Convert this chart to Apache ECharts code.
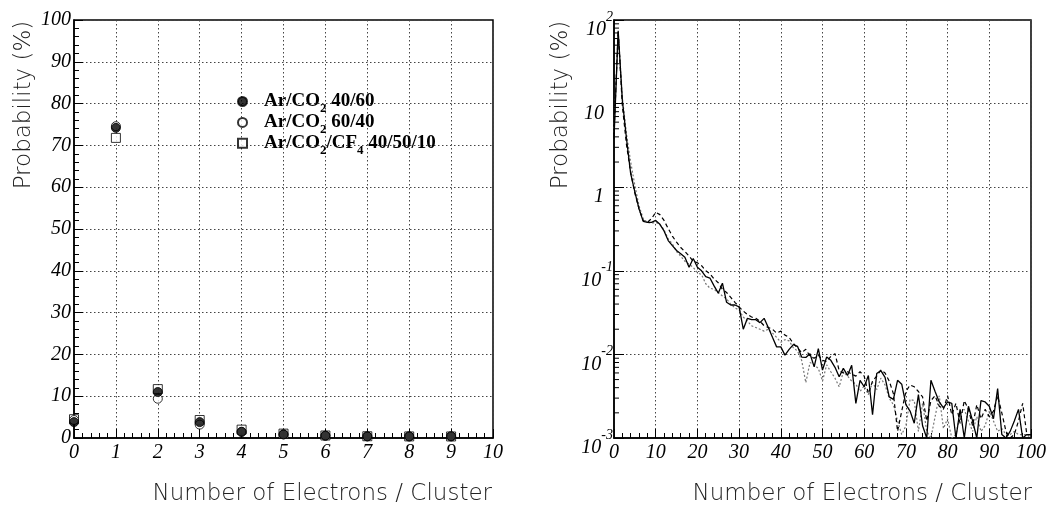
<!DOCTYPE html>
<html>
<head>
<meta charset="utf-8">
<script src="https://cdn.jsdelivr.net/npm/echarts@6/dist/echarts.min.js"></script>
<style>
  html, body { margin: 0; padding: 0; background: #fff; }
  #chart { width: 1049px; height: 510px; }
</style>
</head>
<body>
<div id="chart"></div>
<script>
// Cluster-size distributions: probability (%) of n electrons per cluster, n = 0..100
const gasNames = ['Ar/CO2 40/60', 'Ar/CO2 60/40', 'Ar/CO2/CF4 40/50/10'];

// Ar/CO2 40/60 (filled circles, solid line)
const probArCO2_40_60 = [
  3.8, 74.2, 11.0, 3.8, 1.45, 0.88, 0.55, 0.39, 0.38, 0.38,
  0.40, 0.36, 0.30, 0.23, 0.20, 0.175, 0.16, 0.145, 0.11, 0.14,
  0.11, 0.10, 0.085, 0.082, 0.066, 0.054, 0.071, 0.042, 0.039, 0.039,
  0.037, 0.020, 0.027, 0.026, 0.026, 0.024, 0.027, 0.021, 0.016, 0.0123,
  0.0123, 0.0098, 0.0115, 0.0131, 0.0125, 0.0093, 0.0092, 0.0102, 0.0071, 0.0117,
  0.0065, 0.0093, 0.0085, 0.0070, 0.0054, 0.0068, 0.0056, 0.0074, 0.0026, 0.0049,
  0.0041, 0.0056, 0.0019, 0.0059, 0.0064, 0.0053, 0.0031, 0.0029, 0.0049, 0.0044,
  0.0025, 0.0021, 0.0015, 0.0033, 0.0014, 0, 0.0049, 0.0036, 0.0027, 0.0023,
  0.0027, 0.0026, 0, 0.0022, 0, 0.0024, 0.0016, 0, 0.0028, 0.0027,
  0.0024, 0.0017, 0.0039, 0.0011, 0, 0.0012, 0.0016, 0.0022, 0.0010, 0.0011,
  0.0011
];

// Ar/CO2 60/40 (open circles, dashed line)
const probArCO2_60_40 = [
  4.3, 74.6, 9.4, 3.2, 1.5, 0.85, 0.55, 0.40, 0.38, 0.42,
  0.50, 0.47, 0.40, 0.32, 0.26, 0.22, 0.19, 0.17, 0.15, 0.13,
  0.125, 0.115, 0.10, 0.092, 0.080, 0.072, 0.060, 0.055, 0.048, 0.042,
  0.037, 0.033, 0.030, 0.028, 0.027, 0.025, 0.022, 0.021, 0.020, 0.018,
  0.019, 0.017, 0.016, 0.0135, 0.012, 0.0105, 0.0115, 0.0095, 0.0090, 0.0098,
  0.0085, 0.0082, 0.0095, 0.0102, 0.0064, 0.0060, 0.0062, 0.0058, 0.0055, 0.0062,
  0.0055, 0.0034, 0.0048, 0.0055, 0.0065, 0.0060, 0.0048, 0.0034, 0.0012, 0.0021,
  0.0036, 0.0043, 0.0041, 0.0036, 0.0031, 0.0016, 0.0028, 0.0032, 0.0024, 0.0022,
  0.0032, 0.0019, 0.0026, 0.0015, 0.0028, 0.0022, 0.0014, 0.0025, 0.0017, 0.0022,
  0.0018, 0.0021, 0.0032, 0.0020, 0.0012, 0, 0.0011, 0.0016, 0.0026, 0.0011,
  0.0011
];

// Ar/CO2/CF4 40/50/10 (open squares, dotted line)
const probArCO2CF4 = [
  4.5, 71.8, 11.7, 4.3, 2.0, 1.05, 0.60, 0.42, 0.38, 0.37,
  0.38, 0.36, 0.31, 0.24, 0.21, 0.17, 0.15, 0.13, 0.12, 0.11,
  0.095, 0.090, 0.070, 0.062, 0.060, 0.055, 0.050, 0.046, 0.040, 0.036,
  0.034, 0.028, 0.025, 0.022, 0.021, 0.020, 0.019, 0.020, 0.018, 0.016,
  0.014, 0.015, 0.0145, 0.012, 0.011, 0.0085, 0.0046, 0.0080, 0.0075, 0.0068,
  0.0048, 0.0075, 0.0062, 0.0052, 0.0041, 0.0062, 0.0055, 0.0048, 0.0044, 0.0036,
  0.0042, 0.0033, 0.0046, 0.0038, 0.0052, 0.0043, 0.0030, 0.0025, 0.0016, 0.0011,
  0.0014, 0.0029, 0.0028, 0.0012, 0.0026, 0.0012, 0, 0.0018, 0.0032, 0.0013,
  0.0017, 0, 0.0011, 0.0019, 0.0022, 0.0016, 0.0012, 0.0018, 0.0012, 0.0014,
  0.0021, 0.0016, 0.0012, 0.0013, 0.0011, 0.0011, 0.0012, 0.0011, 0.0011, 0.0011,
  0.0010
];

const nLinear = 10;                 // bins shown on the linear panel (0..9)
const logTickLabels = { '-3': '-3', '-2': '-2', '-1': '-1', '0': '1', '1': '10', '2': '2' };
const xTitle = 'Number of Electrons / Cluster';
const yTitle = 'Probability (%)';

const LOG_MIN = 1e-3, LOG_MAX = 100;

const chart = echarts.init(document.getElementById('chart'), null, { renderer: 'canvas' });

const tickFont = { fontFamily: 'Liberation Serif', fontStyle: 'italic', fontSize: 20, color: '#000' };
const titleFont = { fontFamily: 'DejaVu Sans', fontWeight: 200, fontSize: 23, fill: '#222' };

function linearPoints(arr) {
  return arr.slice(0, nLinear).map((v, i) => [i, v]);
}
// empty bins sit on the floor of the log axis
function logPoints(arr) {
  return arr.map((v, i) => [i, v > 0 ? v : LOG_MIN]);
}

// "CO2" -> CO with subscript 2
function richGasLabel(name) {
  const parts = name.split(/((?:CO|CF)\d)/).filter(p => p.length);
  let s = '{g|}';
  parts.forEach(p => {
    const m = p.match(/^(CO|CF)(\d)$/);
    if (m) s += '{m|' + m[1] + '}{s|' + m[2] + '}';
    else s += '{m|' + p + '}';
  });
  return s;
}

const legendRich = {
  g: { width: 12, lineHeight: 20, verticalAlign: 'top' },
  m: { fontFamily: 'Liberation Serif', fontWeight: 'bold', fontSize: 19, lineHeight: 20, verticalAlign: 'top', color: '#000' },
  s: { fontFamily: 'Liberation Serif', fontWeight: 'bold', fontSize: 13, lineHeight: 13, padding: [11, 0, 0, 0], verticalAlign: 'top', color: '#000' }
};

const legendRowCenters = [103.5, 124.4, 145.3];

// minor ticks of the log axis at 2..9 x 10^k
const logMinorTicks = [];
for (let k = -3; k <= 1; k++) {
  for (let j = 2; j <= 9; j++) logMinorTicks.push([0, j * Math.pow(10, k)]);
}

const axisCommon = {
  axisLine: { show: true, onZero: false, lineStyle: { color: '#000', width: 1.5 } },
  axisTick: { show: true, inside: true, length: 9, lineStyle: { color: '#000', width: 1 } },
  minorTick: { show: true, splitNumber: 5, length: 5, lineStyle: { color: '#000', width: 1 } },
  splitLine: { show: true, lineStyle: { color: '#444', type: [1.5, 2.5], width: 1 } }
};

const option = {
  animation: false,
  backgroundColor: '#fff',
  grid: [
    { left: 74, top: 20, width: 419, height: 418, show: true, borderColor: '#000', borderWidth: 1.5, backgroundColor: 'transparent' },
    { left: 614, top: 20, width: 418, height: 418, show: true, borderColor: '#000', borderWidth: 1.5, backgroundColor: 'transparent' }
  ],
  xAxis: [
    Object.assign({}, axisCommon, {
      type: 'value', gridIndex: 0, min: 0, max: 10, interval: 1,
      axisLabel: Object.assign({ margin: 5 }, tickFont)
    }),
    Object.assign({}, axisCommon, {
      type: 'value', gridIndex: 1, min: 0, max: 100, interval: 10,
      axisLabel: Object.assign({ margin: 5 }, tickFont)
    })
  ],
  yAxis: [
    Object.assign({}, axisCommon, {
      type: 'value', gridIndex: 0, min: 0, max: 100, interval: 10,
      axisLabel: Object.assign({ margin: 3 }, tickFont)
    }),
    Object.assign({}, axisCommon, {
      type: 'log', gridIndex: 1, logBase: 10, min: LOG_MIN, max: LOG_MAX,
      minorTick: { show: false },
      axisTick: { show: true, inside: true, length: 10, lineStyle: { color: '#000', width: 1 } },
      axisLabel: {
        margin: 1,
        formatter: function (v) {
          const e = String(Math.round(Math.log10(v)));
          if (e === '0' || e === '1') return '{m|' + logTickLabels[e] + '}{pad|}';
          return '{m|10}{sup|' + logTickLabels[e] + '}';
        },
        rich: {
          m: { fontFamily: 'Liberation Serif', fontStyle: 'italic', fontSize: 20, lineHeight: 20, padding: [10, 0, 10, 0], verticalAlign: 'top', color: '#000' },
          sup: { fontFamily: 'Liberation Serif', fontStyle: 'italic', fontSize: 14, lineHeight: 14, padding: [0, 0, 26, 0], verticalAlign: 'top', color: '#000' },
          pad: { width: 9, lineHeight: 20 }
        }
      }
    })
  ],
  legend: gasNames.map((name, i) => ({
    data: [name],
    left: 237,
    top: legendRowCenters[i] - 12,
    padding: 0,
    itemWidth: 9,
    itemHeight: 9,
    selectedMode: false,
    formatter: richGasLabel,
    textStyle: { rich: legendRich }
  })),
  graphic: [
    { type: 'text', x: 24, y: 105, rotation: Math.PI / 2,
      style: Object.assign({ text: yTitle, align: 'center', verticalAlign: 'middle' }, titleFont) },
    { type: 'text', x: 561, y: 105, rotation: Math.PI / 2,
      style: Object.assign({ text: yTitle, align: 'center', verticalAlign: 'middle' }, titleFont) },
    { type: 'text', x: 492, y: 494,
      style: Object.assign({ text: xTitle, align: 'right', verticalAlign: 'middle' }, titleFont) },
    { type: 'text', x: 1032, y: 494,
      style: Object.assign({ text: xTitle, align: 'right', verticalAlign: 'middle' }, titleFont) }
  ],
  series: [
    // linear panel, drawn back to front
    { name: gasNames[2], type: 'scatter', xAxisIndex: 0, yAxisIndex: 0,
      symbol: 'rect', symbolSize: 9,
      itemStyle: { color: '#fff', borderColor: '#000', borderWidth: 1 },
      data: linearPoints(probArCO2CF4), z: 3 },
    { name: gasNames[1], type: 'scatter', xAxisIndex: 0, yAxisIndex: 0,
      symbol: 'circle', symbolSize: 9,
      itemStyle: { color: '#fff', borderColor: '#000', borderWidth: 1 },
      data: linearPoints(probArCO2_60_40), z: 4 },
    { name: gasNames[0], type: 'scatter', xAxisIndex: 0, yAxisIndex: 0,
      symbol: 'circle', symbolSize: 9,
      itemStyle: { color: '#000', borderColor: '#000', borderWidth: 1 },
      data: linearPoints(probArCO2_40_60), z: 5 },

    // log panel
    { name: gasNames[2] + ' (log)', type: 'line', xAxisIndex: 1, yAxisIndex: 1,
      showSymbol: false, clip: true,
      lineStyle: { color: '#777', width: 1.2, type: [2, 2] },
      data: logPoints(probArCO2CF4), z: 3 },
    { name: gasNames[1] + ' (log)', type: 'line', xAxisIndex: 1, yAxisIndex: 1,
      showSymbol: false, clip: true,
      lineStyle: { color: '#000', width: 1.2, type: [4, 3] },
      data: logPoints(probArCO2_60_40), z: 4 },
    { name: gasNames[0] + ' (log)', type: 'line', xAxisIndex: 1, yAxisIndex: 1,
      showSymbol: false, clip: true,
      lineStyle: { color: '#000', width: 1.3 },
      data: logPoints(probArCO2_40_60), z: 5 },

    // log-axis minor ticks
    { type: 'custom', xAxisIndex: 1, yAxisIndex: 1, silent: true, z: 6,
      data: logMinorTicks,
      renderItem: function (params, api) {
        const p = api.coord([api.value(0), api.value(1)]);
        return { type: 'line', shape: { x1: p[0], y1: p[1], x2: p[0] + 5, y2: p[1] },
                 style: { stroke: '#000', lineWidth: 1 } };
      } }
  ]
};

chart.setOption(option);
</script>
</body>
</html>
